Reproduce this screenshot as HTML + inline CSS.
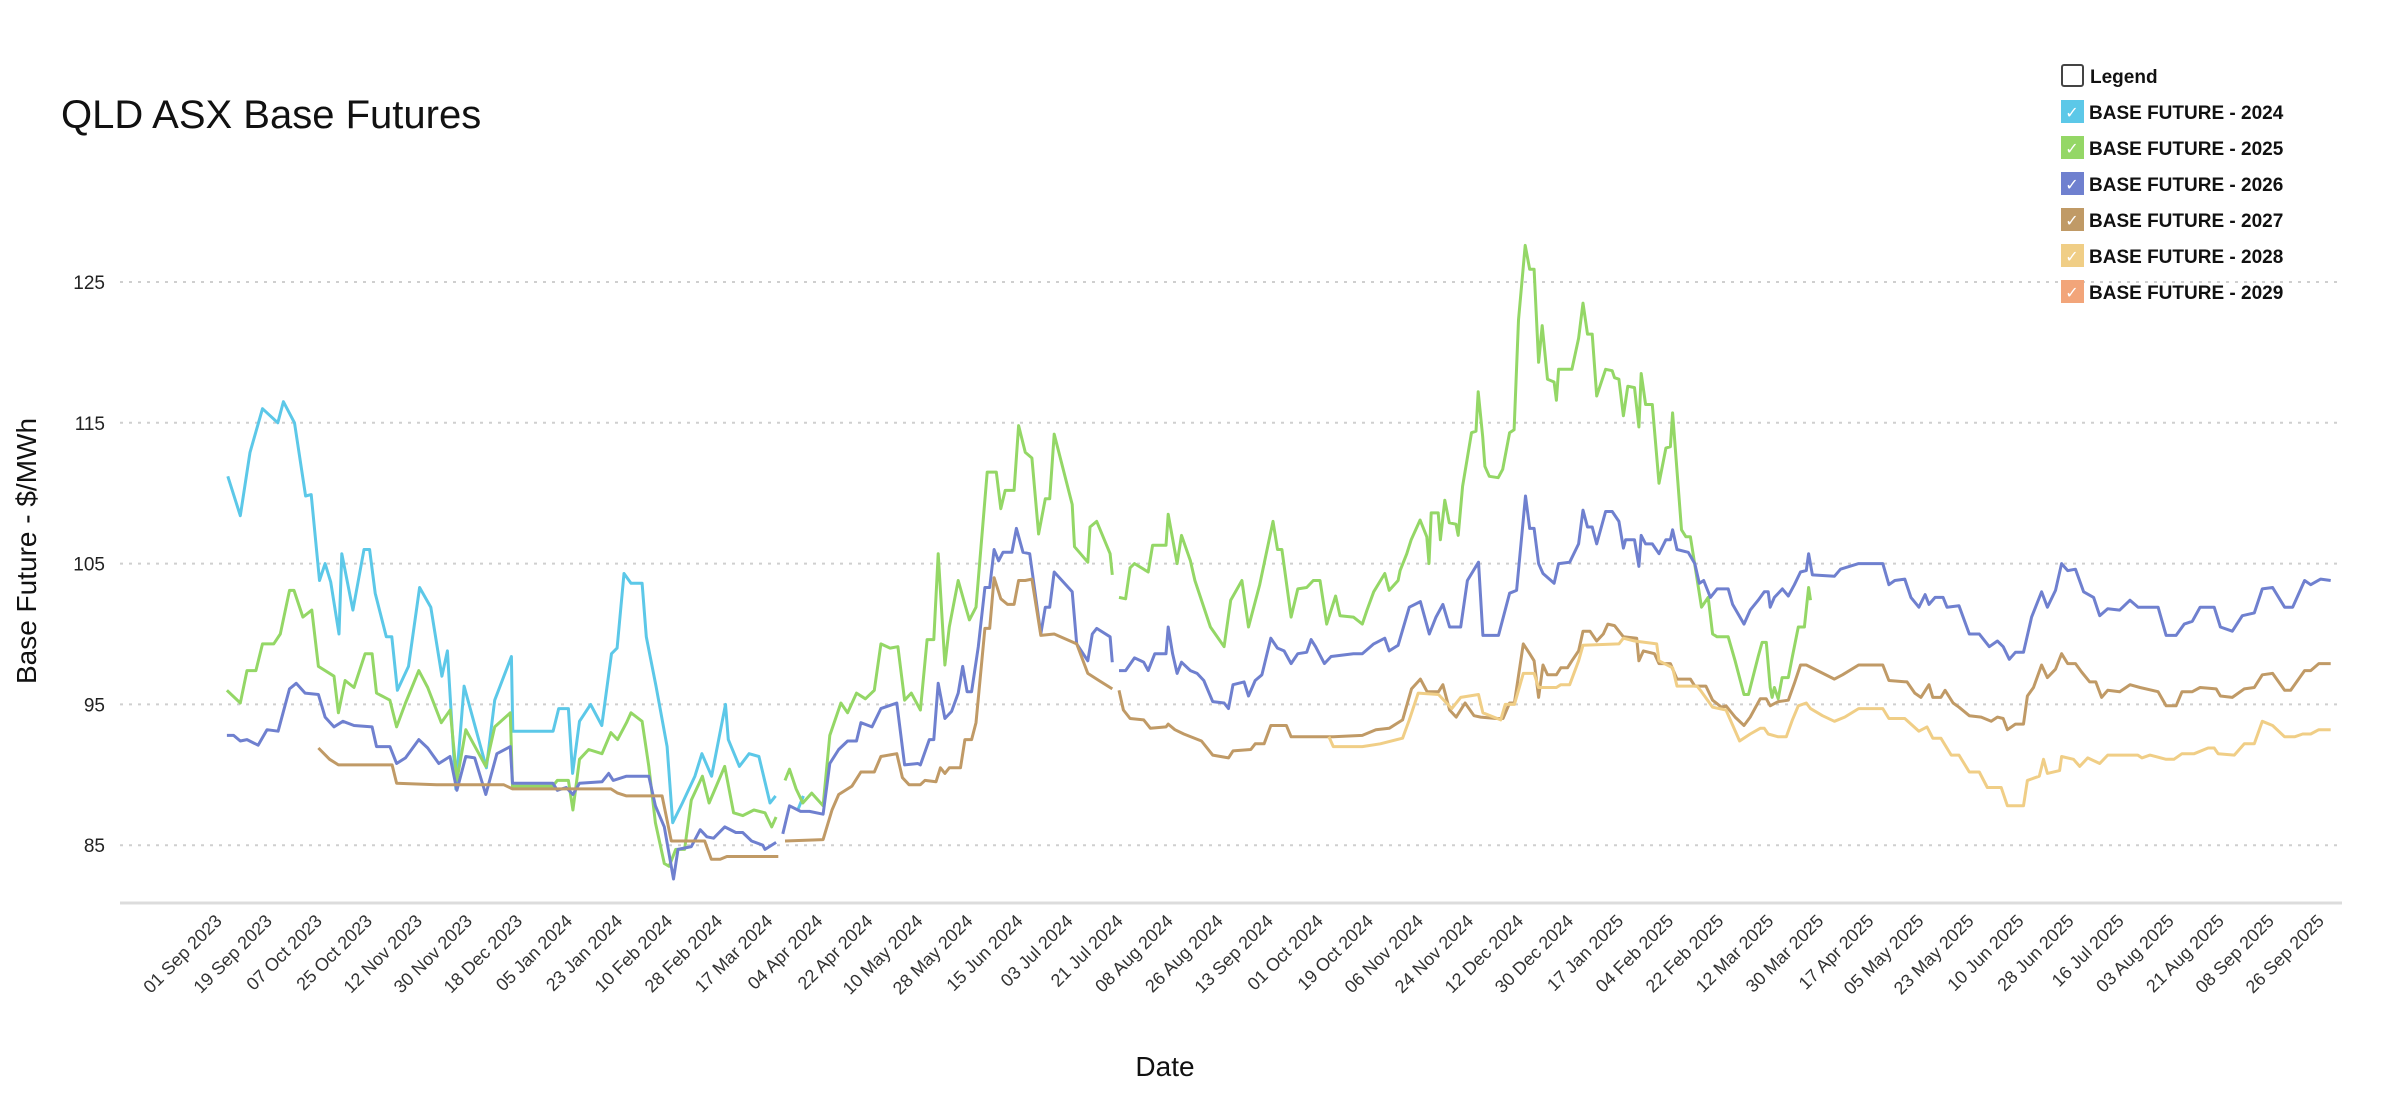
<!DOCTYPE html>
<html><head><meta charset="utf-8"><title>QLD ASX Base Futures</title>
<style>
html,body{margin:0;padding:0;background:#fff;}
body{width:2400px;height:1101px;overflow:hidden;font-family:"Liberation Sans",sans-serif;}
svg text{font-family:"Liberation Sans",sans-serif;}
</style></head>
<body>
<svg id="chart" width="2400" height="1101" viewBox="0 0 2400 1101" xmlns="http://www.w3.org/2000/svg">
<text x="61" y="128" font-size="40" fill="#111">QLD ASX Base Futures</text>
<g id="grid"></g>
<g id="yticks"></g>
<line x1="120" y1="903" x2="2342" y2="903" stroke="#dcdcdc" stroke-width="3"/>
<g id="xticks"></g>
<g id="series"></g>
<text transform="translate(36,551) rotate(-90)" text-anchor="middle" font-size="28" fill="#111">Base Future -  $/MWh</text>
<text x="1165" y="1076" text-anchor="middle" font-size="28" fill="#111">Date</text>
<g id="legend">
  <rect x="2062" y="65" width="21" height="21" rx="2" fill="#fff" stroke="#444" stroke-width="2"/>
  <text x="2090" y="83" font-size="19" font-weight="bold" fill="#111">Legend</text>
</g>
</svg>
<script>
const yTicks = [85, 95, 105, 115, 125];
const tickLabels = ["01 Sep 2023","19 Sep 2023","07 Oct 2023","25 Oct 2023","12 Nov 2023","30 Nov 2023","18 Dec 2023","05 Jan 2024","23 Jan 2024","10 Feb 2024","28 Feb 2024","17 Mar 2024","04 Apr 2024","22 Apr 2024","10 May 2024","28 May 2024","15 Jun 2024","03 Jul 2024","21 Jul 2024","08 Aug 2024","26 Aug 2024","13 Sep 2024","01 Oct 2024","19 Oct 2024","06 Nov 2024","24 Nov 2024","12 Dec 2024","30 Dec 2024","17 Jan 2025","04 Feb 2025","22 Feb 2025","12 Mar 2025","30 Mar 2025","17 Apr 2025","05 May 2025","23 May 2025","10 Jun 2025","28 Jun 2025","16 Jul 2025","03 Aug 2025","21 Aug 2025","08 Sep 2025","26 Sep 2025"];
const tickDays = tickLabels.map((_, i) => i * 18);
const seriesNames = ["BASE FUTURE - 2024","BASE FUTURE - 2025","BASE FUTURE - 2026","BASE FUTURE - 2027","BASE FUTURE - 2028","BASE FUTURE - 2029"];

const days2024 = [1,5.5,9,13.5,19,21,25,29,31,34,36,38,41,42,46,50,52,54,58,60,62,66,70,74,78,80,83,86,94,97,103,103.5,118,120,123.5,125,127.5,131.5,135.5,139,141,143.5,146,150,151.5,155,159,161,164.5,169,171.5,175,180,181,185,188.5,192,196,198,202,206,208];
const vals2024 = [111.2,108.4,112.9,116,115,116.5,115,109.8,109.9,103.8,105,103.7,100,105.7,101.7,106,106,102.9,99.8,99.8,96,97.7,103.3,101.9,97,98.8,89,96.3,90.5,95.3,98.4,93.1,93.1,94.7,94.7,90.1,93.8,95,93.5,98.6,99,104.3,103.6,103.6,99.8,96.3,92,86.6,88,89.9,91.5,89.9,95,92.5,90.6,91.5,91.3,88,88.5,null,87.5,88.5];

const days2025 = [0.7,5.5,7.9,11.1,13.5,17.5,19.9,23.2,24.8,28,31.2,33.6,39.2,40.8,43.2,46.4,50.4,52.9,54.5,59.3,61.7,64.9,69.7,72.9,77.8,81,83.4,86.6,93.8,97,102.6,103.4,117.9,119.5,123.5,125.1,127.5,130.8,135.6,138.8,141.2,144.4,146,150,152.4,154.8,158,159.7,162.1,165.3,167.7,171.7,174.1,179.7,182.9,186.2,190.2,194.2,196.6,198.2,200,201.4,203,205.4,207.8,211,215.1,217.5,221.5,223.9,227.1,230.3,233.5,235.9,239.2,242,244.4,246.8,250.1,252.5,254.9,256.5,258.9,260.5,263.7,266.1,267.7,270.1,274.1,277.4,279,280.6,283.8,285.4,287.8,290.2,292.6,295,296.6,298.2,304.7,305.5,310.3,311.1,313.5,318.3,319.1,320.3,321.5,323.9,325.5,327.1,332,333.6,338.4,339.2,342.4,344,347.2,348.8,354.4,359.3,361.7,365.7,368.1,372.1,376.9,378.5,380.1,383.4,385.8,389,391.4,393.8,396.2,399.4,401,405.8,409,410.7,413.1,417.1,418.7,421.9,422.6,425,426.6,429.8,432.2,433,433.8,436.3,437.1,438.7,440.3,442.7,443.5,445.1,446.7,448.3,449.9,450.7,452.3,453.1,454.7,457.9,459.5,462,463.6,465.2,467.6,469.2,470.8,472.4,473.7,475.6,478,478.8,479.6,484.4,486.8,488.4,490,491.7,493.3,496.5,498.9,499.7,501.3,502.9,504.5,506.9,508.5,509.3,510.9,513.3,515.7,518.2,519.8,520.6,523.8,525.4,527,531,533.4,535,536.6,540.6,543.1,546.3,547.9,551.4,552.8,554.3,555.7,556.4,557.2,558.6,560,562.2,563.7,565.8,568,569.5,570.2];
const vals2025 = [96,95.1,97.4,97.4,99.3,99.3,100,103.1,103.1,101.2,101.7,97.7,97,94.4,96.7,96.2,98.6,98.6,95.8,95.3,93.4,95.1,97.4,96.2,93.7,94.6,89.6,93.2,90.6,93.4,94.4,89.2,89.2,89.6,89.6,87.5,91.1,91.8,91.5,93,92.5,93.7,94.4,93.8,90.6,86.6,83.7,83.5,84.7,84.7,88.2,89.9,88,90.6,87.3,87.1,87.5,87.3,86.3,87,null,89.6,90.4,89,88,88.7,87.8,92.8,95.1,94.4,95.8,95.4,96,99.3,99,99.1,95.3,95.8,94.6,99.6,99.6,105.7,97.8,100.5,103.8,102.1,101,101.9,111.5,111.5,108.9,110.2,110.2,114.8,112.9,112.5,107.1,109.6,109.6,114.2,109.2,106.2,105.1,107.6,108,105.7,104.2,null,102.6,102.5,104.7,105,104.4,106.3,106.3,108.5,105,107,105.2,103.8,100.5,99.1,102.4,103.8,100.5,103.5,108,106,106,101.2,103.2,103.3,103.8,103.8,100.7,102.7,101.3,101.2,100.7,101.7,103,104.3,103.1,103.8,104.5,105.7,106.7,108.1,106.9,105,108.6,108.6,106.7,109.5,107.9,107.8,107,110.5,112.4,114.3,114.4,117.2,114,111.9,111.2,111.1,111.7,114.3,114.5,122.3,127.6,125.9,125.9,119.3,121.9,118.1,117.9,116.6,118.8,118.8,121,123.5,121.3,121.3,116.9,118.8,118.7,118.2,118.1,115.5,117.6,117.5,114.7,118.5,116.3,116.3,110.7,113.2,113.3,115.7,107.4,106.9,106.9,101.9,102.6,100,99.8,99.8,98.1,95.7,95.7,98.4,99.4,99.4,96.2,95.5,96.2,95.4,96.9,96.9,98.4,100.5,100.5,103.3,102.4];

const days2026 = [0.7,3.1,5.5,7.9,11.9,15.1,19.1,23.2,25.6,28.8,33.6,36,39.2,42.4,46.4,52.9,54.5,59.3,61.7,64.9,69.7,72.9,76.9,80.9,83.4,86.6,89.8,93.8,97.8,102.6,103.4,117.9,119.5,122.7,125.1,127.5,135.6,138,139.6,144.4,152.4,154.8,158,161.3,162.9,167.7,170.9,173.3,175.7,179.7,183.7,186.2,189.4,193.4,194.2,198.2,199.5,200.6,203,207,210.2,215.1,217.5,220.7,223.9,227.1,228.7,232.7,235.9,241.6,244.4,249.2,250.1,253.3,254.9,256.5,258.9,261.3,263.7,265.3,266.9,268.5,270.9,273.3,275,276.6,278.2,279.8,283,284.6,287,289.4,293.4,295,296.6,298.2,304.7,306.3,310.3,311.9,313.5,318.3,319.1,320.3,321.5,323.9,327.1,330.4,332,334.4,338.4,339.2,340.8,342.4,344,347.2,349.6,352,355.2,359.3,360.9,362.5,366.5,368.1,370.5,372.9,376.1,378.5,380.9,383.4,385.8,389,390.6,392.2,395.4,397.8,405.8,409,413.1,417.1,418.7,421.9,425.9,429.9,433.1,435.5,438,440.4,444.4,446.8,450.8,452.4,458,462,464.5,467.7,469.2,470.8,472.4,474,478,479.6,483.6,486.8,488.4,490,491.7,493.3,496.5,498.9,501.3,502.9,503.7,506.9,508.5,509.3,510.9,513.3,515.7,518.2,519.8,520.6,522.2,526.2,528.6,530.2,531.8,534.2,536.6,540.6,542.2,546.3,548.5,551.4,553.6,555,555.7,557.2,560.1,562.2,564.4,566.6,568.7,569.5,570.9,578.8,581,587.5,596.2,598.4,600.5,604.1,606.3,609.2,611.4,612.8,615,617.9,619.3,623.6,627.3,630.9,634.5,637.4,639.5,641.7,643.9,646.8,649.7,653.3,655.4,658.3,660.5,662.7,665.5,668.4,672,674.2,677.1,681.4,685.1,688,695.2,698.1,701.7,704.6,707.5,710.3,715.4,717.6,721.9,725.5,729.8,732.7,736.4,740.7,743.6,747.9,750.1,753.7,757.3];
const vals2026 = [92.8,92.8,92.4,92.5,92.1,93.2,93.1,96.1,96.5,95.8,95.7,94.1,93.4,93.8,93.5,93.4,92,92,90.8,91.2,92.5,91.9,90.8,91.3,88.9,91.3,91.2,88.6,91.5,92,89.4,89.4,88.9,89.1,88.6,89.4,89.5,90.1,89.6,89.9,89.9,87.8,86.3,82.6,84.7,84.9,86.1,85.6,85.5,86.3,85.9,85.9,85.3,85,84.7,85.2,null,85.8,87.8,87.4,87.4,87.2,90.8,91.8,92.4,92.4,93.7,93.4,94.7,95.1,90.7,90.8,90.7,92.5,92.5,96.5,94,94.5,95.8,97.7,95.9,95.9,99.1,103.3,103.3,106,105.2,105.8,105.8,107.5,105.8,105.7,100,101.9,101.9,104.4,103,99.3,98.1,100,100.4,99.8,98,null,97.4,97.4,98.3,98,97.4,98.6,98.6,100.5,98.6,97.2,98,97.4,97.2,96.7,95.2,95.1,94.7,96.4,96.6,95.6,96.7,97.1,99.7,99,98.8,97.9,98.6,98.7,99.6,99.1,97.9,98.4,98.6,98.6,99.3,99.7,98.8,99.2,101.9,102.3,100,101.2,102.1,100.5,100.5,103.8,105.1,99.9,99.9,102.9,103.1,109.8,107.5,107.5,105,104.3,103.6,105,105.1,106.4,108.8,107.6,107.6,106.4,108.7,108.7,108,106.1,106.7,106.7,104.8,107,106.4,106.4,105.7,106.7,106.7,107.4,106,105.8,105,103.6,103.8,102.6,103.2,103.2,102.1,100.7,101.7,102.4,103,103,101.9,102.6,103.2,102.7,103.5,104.4,104.5,105.7,104.2,104.1,104.6,105,105,103.5,103.8,103.9,102.6,101.9,102.8,102.1,102.6,102.6,101.9,102,100,100,99.1,99.5,99.1,98.2,98.7,98.7,101.2,103,101.9,103.1,105,104.5,104.6,103,102.6,101.3,101.8,101.7,102.4,101.9,101.9,99.9,99.9,100.7,100.9,101.9,101.9,100.5,100.2,101.3,101.5,103.2,103.3,101.9,101.9,103.8,103.5,103.9,103.8];

const days2027 = [33.6,37.6,40.8,60.1,61.7,76.1,100.2,103.4,138.8,141.2,144.4,157.2,160.5,172.5,174.9,178.1,180.5,199,200,201.4,215.1,218.3,220.7,225.5,228.7,233.5,235.9,241.6,243.6,246,250.1,251.7,255.7,257.3,258.9,260.5,264.5,266.1,268.5,270.1,273.3,275,276.6,279,281.4,283.8,285.4,287.8,290.2,293.4,298.2,306.3,310.3,314.3,319.1,320.3,321.5,323.1,325.5,330.4,332.8,338.4,339.2,341.6,344.8,351.2,355.2,360.9,362.5,368.9,370.5,373.7,376.1,381.7,383.4,398.6,409,413.9,418.7,423.5,426.7,429.9,432.3,436.4,438,440.4,442.8,446,449.2,451.6,457.2,459.6,462,463.7,466.9,469.2,470.8,472.4,474,475.6,478.8,480.4,482.8,484.4,486.8,488.4,490.9,493.3,495.7,497.3,499.7,501.3,502.9,507.7,508.5,510.1,514.1,515.7,519.8,522.2,527,528.6,532.6,535,538.2,539.8,543.1,546.3,548.5,552.1,554.3,555.7,558.6,562.2,564.4,566.6,568.7,578.8,581.7,587.5,596.2,598.4,604.9,607.7,609.9,612.8,614.2,617.1,618.6,621.5,623.6,627.3,631.6,635.2,637.4,639.5,641,643.9,646.8,648.2,650.4,653.3,655.4,658.3,660.5,662.7,665.5,667.7,670.6,672.8,674.9,677.1,681.4,685.1,688.7,695.2,698.1,701.7,703.8,707.5,710.3,716.1,717.6,721.9,726.2,729.8,732.7,736.4,740.7,742.9,747.9,750.1,753,757.3];
const vals2027 = [91.9,91.1,90.7,90.7,89.4,89.3,89.3,89,89,88.7,88.5,88.5,85.3,85.3,84,84,84.2,84.2,null,85.3,85.4,87.5,88.6,89.2,90.2,90.2,91.3,91.5,89.8,89.3,89.3,89.6,89.5,90.5,90.1,90.5,90.5,92.5,92.5,93.7,100.4,100.4,104,102.5,102.1,102.1,103.8,103.8,103.9,99.9,100,99.3,97.2,96.7,96.1,null,96,94.6,94,93.9,93.3,93.4,93.6,93.2,92.9,92.4,91.4,91.2,91.7,91.8,92.2,92.2,93.5,93.5,92.7,92.7,92.8,93.2,93.3,93.9,96.1,96.8,95.9,95.9,96.4,94.6,94.1,95.1,94.2,94.1,94,94,95.1,95.1,99.3,98.6,98.1,95.5,97.8,97.1,97.1,97.6,97.6,98.1,98.8,100.2,100.2,99.5,100,100.7,100.6,100.2,99.8,99.7,98.1,98.8,98.6,97.9,97.9,96.8,96.8,96.3,96.3,95.3,94.8,94.9,94.1,93.5,94.1,95.4,95.4,94.9,95.2,95.3,96.5,97.8,97.8,96.8,97.1,97.8,97.8,96.7,96.6,95.8,95.5,96.4,95.5,95.5,96,95.1,94.8,94.2,94.1,93.8,94.1,94,93.2,93.6,93.6,95.6,96.2,97.8,96.9,97.5,98.6,97.9,97.9,97.3,96.6,96.6,95.5,96,95.9,96.4,96.2,95.9,94.9,94.9,95.9,95.9,96.2,96.1,95.6,95.5,96.1,96.2,97.1,97.2,96,96,97.4,97.4,97.9,97.9];

const days2028 = [397,398.6,409,415.5,423.5,425.9,429.1,436.4,441.2,444.4,450.8,452.4,458.8,460.4,463.7,466.9,470.8,472.4,478.8,480.4,483.6,486.8,488.4,501.3,502.9,506.9,514.9,515.7,520.6,522.2,529.4,531,535,539.8,544.7,548.5,552.1,553.6,555,558.6,561.5,563.7,565.8,568.7,570.2,574.5,578.8,582.5,587.5,596.2,598.4,604.1,609.2,612.1,614.2,617.1,620.8,623.6,627.3,630.9,633.8,638.8,641,646.8,648.2,652.5,654,655.4,659.8,660.5,664.8,667,669.9,674.2,677.1,687.9,689.4,692.3,698.1,700.9,703.8,708.2,713.2,715.4,716.8,722.6,726.2,729.8,732.7,736.4,740.7,744.3,747.2,750.1,753,757.3];
const vals2028 = [92.7,92,92,92.2,92.6,93.9,95.8,95.7,94.7,95.5,95.7,94.4,93.9,95,95,97.2,97.2,96.2,96.2,96.4,96.4,98.1,99.2,99.3,99.7,99.5,99.3,98.1,97.6,96.3,96.3,95.9,94.8,94.6,92.4,92.9,93.3,93.3,92.9,92.7,92.7,93.9,94.9,95.1,94.7,94.2,93.8,94.1,94.7,94.7,94,94,93.1,93.4,92.6,92.6,91.4,91.4,90.2,90.2,89.1,89.1,87.8,87.8,89.6,89.9,91.1,90.1,90.3,91.3,91.1,90.6,91.2,90.8,91.4,91.4,91.2,91.4,91.1,91.1,91.5,91.5,91.9,91.9,91.5,91.4,92.2,92.2,93.8,93.5,92.7,92.7,92.9,92.9,93.2,93.2];

const days2029 = [];
const vals2029 = [];

const seriesColors = ["#5cc8e8","#94d766","#6f80cf","#c09a66","#f0ce86","#f2a57a"];
const seriesDays = [days2024, days2025, days2026, days2027, days2028, days2029];
const seriesVals = [vals2024, vals2025, vals2026, vals2027, vals2028, vals2029];

const NS = "http://www.w3.org/2000/svg";
const X0 = 225, PX_PER_DAY = 2.7806;
const Y125 = 282, PX_PER_UNIT = 14.08;
function xScale(d){ return X0 + d * PX_PER_DAY; }
function yScale(v){ return Y125 + (125 - v) * PX_PER_UNIT; }

const grid = document.getElementById('grid');
const yt = document.getElementById('yticks');
yTicks.forEach(v => {
  const y = yScale(v);
  const ln = document.createElementNS(NS, 'line');
  ln.setAttribute('x1', 120); ln.setAttribute('x2', 2342);
  ln.setAttribute('y1', y); ln.setAttribute('y2', y);
  ln.setAttribute('stroke', '#cfcfcf'); ln.setAttribute('stroke-width', '2');
  ln.setAttribute('stroke-dasharray', '3 6');
  
  
  grid.appendChild(ln);
  const t = document.createElementNS(NS, 'text');
  t.setAttribute('x', 105); t.setAttribute('y', y + 7);
  t.setAttribute('text-anchor', 'end'); t.setAttribute('font-size', '19');
  t.setAttribute('fill', '#222');
  t.textContent = v;
  
  
  yt.appendChild(t);
});

const xt = document.getElementById('xticks');
tickLabels.forEach((lab, i) => {
  const x = xScale(tickDays[i]);
  const t = document.createElementNS(NS, 'text');
  t.setAttribute('transform', 'translate(' + (x - 2) + ',922) rotate(-45)');
  t.setAttribute('text-anchor', 'end'); t.setAttribute('font-size', '18');
  t.setAttribute('fill', '#333');
  t.textContent = lab;
  
  
  xt.appendChild(t);
});

const sg = document.getElementById('series');
seriesDays.forEach((days, s) => {
  const vals = seriesVals[s];
  const n = Math.min(days.length, vals.length);
  let d = '', pen = false;
  for (let i = 0; i < n; i++) {
    const v = vals[i];
    if (v === null || v === undefined) { pen = false; continue; }
    d += (pen ? 'L' : 'M') + xScale(days[i]).toFixed(1) + ' ' + yScale(v).toFixed(1) + ' ';
    pen = true;
  }
  if (!d) return;
  const p = document.createElementNS(NS, 'path');
  p.setAttribute('d', d);
  p.setAttribute('fill', 'none');
  p.setAttribute('stroke', seriesColors[s]);
  p.setAttribute('stroke-width', '3');
  p.setAttribute('stroke-linejoin', 'round');
  
  
  sg.appendChild(p);
});

const lg = document.getElementById('legend');
seriesNames.forEach((name, i) => {
  const y = 100 + i * 36;
  const g = document.createElementNS(NS, 'g');
  
  
  const r = document.createElementNS(NS, 'rect');
  r.setAttribute('x', 2061); r.setAttribute('y', y);
  r.setAttribute('width', 23); r.setAttribute('height', 23);
  r.setAttribute('fill', seriesColors[i]);
  
  
  g.appendChild(r);
  const c = document.createElementNS(NS, 'text');
  c.setAttribute('x', 2072); c.setAttribute('y', y + 18);
  c.setAttribute('text-anchor', 'middle'); c.setAttribute('font-size', '16');
  c.setAttribute('fill', '#fff');
  c.textContent = '✓';
  
  
  g.appendChild(c);
  const t = document.createElementNS(NS, 'text');
  t.setAttribute('x', 2089); t.setAttribute('y', y + 19);
  t.setAttribute('font-size', '19'); t.setAttribute('font-weight', 'bold');
  t.setAttribute('fill', '#111');
  t.textContent = name;
  
  
  g.appendChild(t);
  lg.appendChild(g);
});
</script>
</body></html>
